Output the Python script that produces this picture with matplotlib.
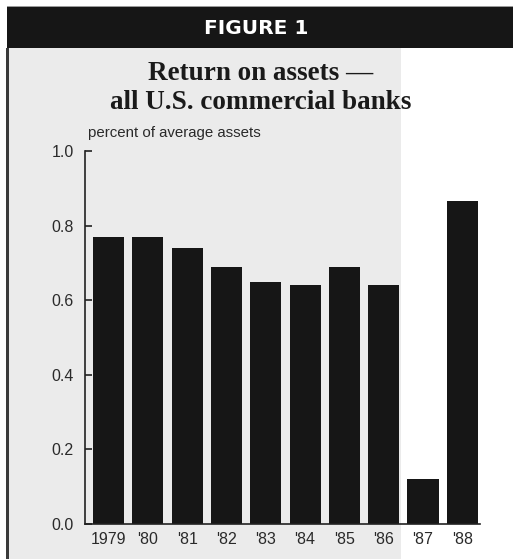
import matplotlib
matplotlib.use("Agg")
import matplotlib.pyplot as plt
from matplotlib.patches import Rectangle

years = ["1979", "'80", "'81", "'82", "'83", "'84", "'85", "'86", "'87", "'88"]
roa = [0.77, 0.77, 0.74, 0.69, 0.65, 0.64, 0.69, 0.64, 0.12, 0.865]
yticks = [0.0, 0.2, 0.4, 0.6, 0.8, 1.0]
ytick_labels = ["0.0", "0.2", "0.4", "0.6", "0.8", "1.0"]

W, H = 513, 559
fig = plt.figure(figsize=(W / 100, H / 100), dpi=100)
fig.patch.set_facecolor("white")

def fx(px):
    return px / W

def fy(py):
    return 1 - py / H

# gray scanned panel
fig.patches.append(Rectangle((fx(8), 0), fx(401) - fx(8), fy(48), transform=fig.transFigure,
                             facecolor="#ebebeb", edgecolor="none", zorder=-10))
# black header band
fig.patches.append(Rectangle((fx(7), fy(48)), 1 - fx(7), fy(7) - fy(48), transform=fig.transFigure,
                             facecolor="#161616", edgecolor="none", zorder=-9))
# thin line above header
fig.patches.append(Rectangle((fx(7), fy(7)), 1 - fx(7), 1.0 / H, transform=fig.transFigure,
                             facecolor="#9a9a9a", edgecolor="none", zorder=-9))
# left border
fig.patches.append(Rectangle((fx(6), 0), 3.0 / W, fy(48), transform=fig.transFigure,
                             facecolor="#3a3a3a", edgecolor="none", zorder=-9))

fig.text(fx(256), fy(29), "FIGURE 1", color="white", fontsize=14.5, fontweight="bold",
         family="DejaVu Sans", ha="center", va="center")
fig.text(fx(261), fy(88), "Return on assets \u2014\nall U.S. commercial banks", color="#1a1a1a",
         fontsize=19.5, fontweight="bold", family="Liberation Serif", ha="center", va="center",
         linespacing=1.2)
fig.text(fx(88), fy(133), "percent of average assets", color="#2a2a2a", fontsize=10.8,
         family="Liberation Sans", ha="left", va="center")

ax = fig.add_axes([fx(85), fy(524), fx(480) - fx(85), fy(151) - fy(524)])
ax.set_facecolor("none")
x = list(range(len(years)))
ax.bar(x, roa, width=0.79, color="#161616")
ax.set_xlim(-0.6, 9.45)
ax.set_ylim(0, 1.0)
ax.set_yticks(yticks)
ax.set_yticklabels(ytick_labels)
ax.set_xticks(x)
ax.set_xticklabels(years)
for s in ["top", "right"]:
    ax.spines[s].set_visible(False)
for s in ["left", "bottom"]:
    ax.spines[s].set_color("#222222")
    ax.spines[s].set_linewidth(1.2)
ax.tick_params(axis="y", direction="in", length=5, width=1.2, color="#222222", pad=8,
               labelsize=11.5, labelcolor="#2a2a2a")
ax.tick_params(axis="x", length=0, pad=6, labelsize=11.5, labelcolor="#2a2a2a")
for lab in ax.get_xticklabels() + ax.get_yticklabels():
    lab.set_family("Liberation Sans")

fig.savefig("out.png", dpi=100)
